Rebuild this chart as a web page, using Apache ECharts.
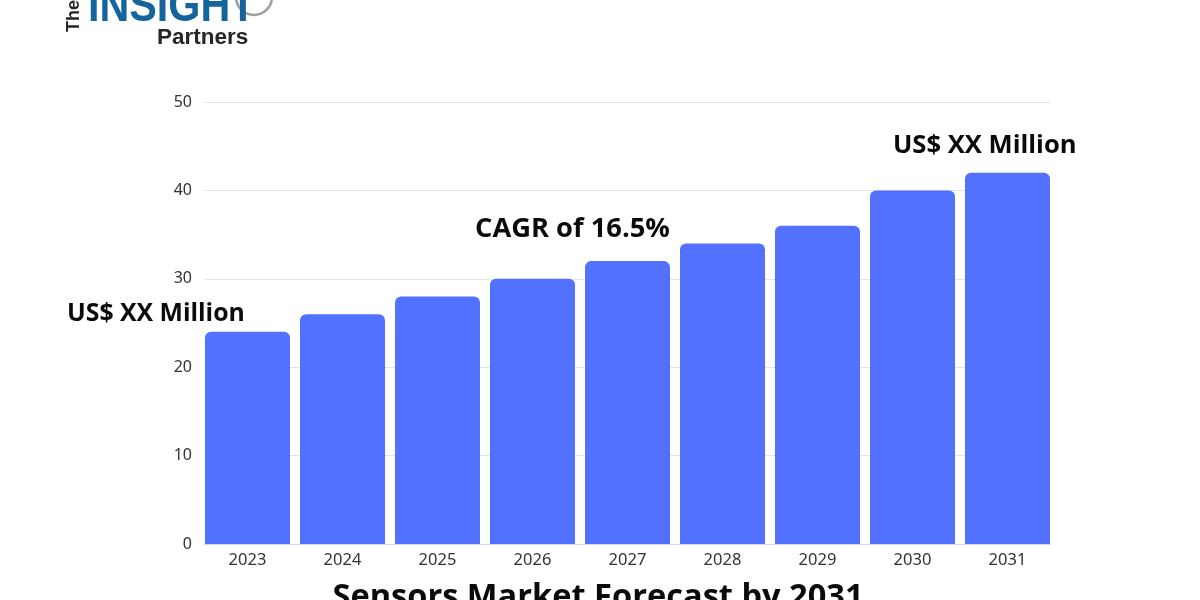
<!DOCTYPE html>
<html>
<head>
<meta charset="utf-8">
<style>
  html, body { margin: 0; padding: 0; background: #fff; }
  #chart { width: 1200px; height: 600px; }
</style>
<script src="https://cdn.jsdelivr.net/npm/echarts@6/dist/echarts.min.js"></script>
</head>
<body>
<div id="chart"></div>
<script>
var years = ['2023', '2024', '2025', '2026', '2027', '2028', '2029', '2030', '2031'];
var values = [24, 26, 28, 30, 32, 34, 36, 40, 42];
var titleText = 'Sensors Market Forecast by 2031';
var startLabel = 'US$ XX Million';
var endLabel = 'US$ XX Million';
var cagrLabel = 'CAGR of 16.5%';

var chart = echarts.init(document.getElementById('chart'));

// Texto bold de las anotaciones
function note(text, x, y, size) {
    return {
        type: 'text', x: x, y: y,
        style: { text: text, fill: '#0b0b0b', font: '700 ' + size + 'px "Open Sans"', textVerticalAlign: 'middle' }
    };
}

chart.setOption({
    backgroundColor: '#ffffff',
    animation: false,
    // grid 0: lineas y eje Y; grid 1: barras (banda de 95px, un poco mas ancha)
    grid: [
        { left: 205, top: 102, width: 845, height: 442 },
        { left: 200, top: 102, width: 855, height: 442 }
    ],
    xAxis: [
        { type: 'category', gridIndex: 0, data: years, show: true,
          axisLine: { show: true, lineStyle: { color: '#d4d4d4', width: 1 } },
          axisTick: { show: false }, axisLabel: { show: false } },
        { type: 'category', gridIndex: 1, data: years,
          axisLine: { show: false }, axisTick: { show: false },
          axisLabel: { color: '#333333', fontFamily: 'Noto Sans', fontSize: 16.5, margin: 8 } }
    ],
    yAxis: [
        { type: 'value', gridIndex: 0, min: 0, max: 50, interval: 10,
          axisLine: { show: false }, axisTick: { show: false },
          axisLabel: { color: '#333333', fontFamily: 'Noto Sans', fontSize: 16, margin: 13, padding: [2, 0, 0, 0] },
          splitLine: { lineStyle: { color: '#e4e4e4', width: 1 } } },
        { type: 'value', gridIndex: 1, min: 0, max: 50, interval: 10, show: false,
          splitLine: { show: false } }
    ],
    series: [{
        type: 'bar',
        xAxisIndex: 1,
        yAxisIndex: 1,
        data: values,
        barWidth: 85,
        itemStyle: { color: '#5271ff', borderRadius: [6, 6, 0, 0] }
    }],
    graphic: [
        note(startLabel, 67, 314, 24.8),
        note(cagrLabel, 475, 229, 27.3),
        note(endLabel, 893, 146, 25.6),
        {
            type: 'text', x: 598, y: 598,
            style: { text: titleText, fill: '#0b0b0b', font: '700 32.6px "Open Sans"',
                     textAlign: 'center', textVerticalAlign: 'middle' }
        },
        // logo
        {
            type: 'circle', shape: { cx: 254, cy: -3, r: 18 },
            style: { fill: '#ffffff', stroke: '#a0a0a0', lineWidth: 2.5 }
        },
        {
            type: 'text', x: 88, y: 8, scaleX: 0.86,
            style: { text: 'INSIGHT', fill: '#14659c', font: '700 48px "Liberation Sans"',
                     textVerticalAlign: 'middle' }
        },
        {
            type: 'text', x: 74, y: 16, rotation: Math.PI / 2,
            style: { text: 'The', fill: '#262626', font: '700 18px "Liberation Sans"',
                     textAlign: 'center', textVerticalAlign: 'middle' }
        },
        {
            type: 'text', x: 157, y: 38,
            style: { text: 'Partners', fill: '#262626', font: '700 22.5px "Liberation Sans"',
                     textVerticalAlign: 'middle' }
        }
    ]
});
</script>
</body>
</html>
